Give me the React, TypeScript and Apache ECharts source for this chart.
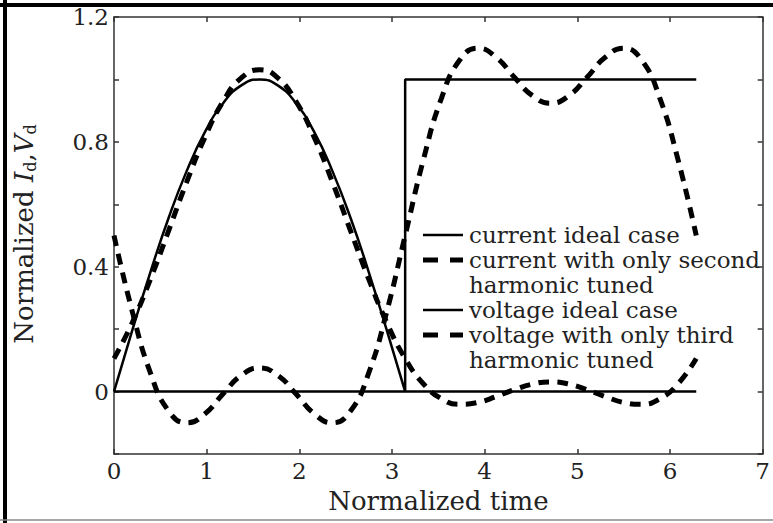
import React, { useEffect, useRef } from 'react';
import * as echarts from 'echarts';

// normalized time samples (step = pi/16)
const T = [0, 0.196, 0.393, 0.589, 0.785, 0.982, 1.178, 1.374, 1.571, 1.767, 1.963, 2.160, 2.356, 2.553, 2.749, 2.945, 3.142, 3.338, 3.534, 3.731, 3.927, 4.123, 4.320, 4.516, 4.712, 4.909, 5.105, 5.301, 5.498, 5.694, 5.890, 6.087, 6.283];

// ideal current: half sine, then zero for the second half period
const currentIdealT = [0, 0.196, 0.393, 0.589, 0.785, 0.982, 1.178, 1.374, 1.571, 1.767, 1.963, 2.160, 2.356, 2.553, 2.749, 2.945, 3.142];
const currentIdeal = [0, 0.195, 0.383, 0.556, 0.707, 0.832, 0.924, 0.981, 1, 0.981, 0.924, 0.832, 0.707, 0.556, 0.383, 0.195, 0];
const currentIdealTailT = [3.142, 6.283];
const currentIdealTail = [0, 0];

const currentSecond = [0.106, 0.220, 0.360, 0.515, 0.672, 0.815, 0.930, 1.005, 1.031, 1.005, 0.930, 0.815, 0.672, 0.515, 0.360, 0.220, 0.106, 0.025, -0.023, -0.041, -0.035, -0.016, 0.006, 0.024, 0.031, 0.024, 0.006, -0.016, -0.035, -0.041, -0.023, 0.025, 0.106];

const voltageIdealT = [0, 3.142, 3.142, 6.283];
const voltageIdeal = [0, 0, 1, 1];

const voltageThird = [0.5, 0.258, 0.060, -0.062, -0.100, -0.071, -0.007, 0.052, 0.076, 0.052, -0.007, -0.071, -0.100, -0.062, 0.060, 0.258, 0.5, 0.742, 0.940, 1.062, 1.100, 1.071, 1.007, 0.948, 0.924, 0.948, 1.007, 1.071, 1.100, 1.062, 0.940, 0.742, 0.5];

const seriesNames = [
  'current ideal case',
  'current with only second harmonic tuned',
  'voltage ideal case',
  'voltage with only third harmonic tuned',
];
const legendTexts = [
  'current ideal case',
  'current with only second\nharmonic tuned',
  'voltage ideal case',
  'voltage with only third\nharmonic tuned',
];
const yLabelValues = ['0', '0.4', '0.8', '1.2'];
const xAxisName = 'Normalized time';

const FONT = '"DejaVu Serif", "Liberation Serif", serif';
const TEXT = '#222';
const AXIS = '#333';

const pairs = (xs: number[], ys: number[]) => xs.map((x, i) => [x, ys[i]]);

export default function App() {
  const ref = useRef<HTMLDivElement>(null);
  useEffect(() => {
    if (!ref.current) return;
    const chart = echarts.init(ref.current, null, { renderer: 'svg' });
    const solid = { color: '#000', width: 2.5, type: 'solid' as const };
    const dashed = { color: '#000', width: 5, type: [11, 8] as any, cap: 'butt' as const };
    const axisCommon = {
      axisLine: { show: true, onZero: false, lineStyle: { color: AXIS, width: 1.5 } },
      axisTick: { show: true, inside: true, length: 5, lineStyle: { color: AXIS, width: 1.5 } },
      splitLine: { show: false },
    };
    const legendRows = [235, 260, 310, 335];
    const legendStyles = [false, true, false, true];
    const legendGraphics: any[] = [];
    legendTexts.forEach((t, i) => {
      const y = legendRows[i];
      legendGraphics.push({
        type: 'line',
        shape: { x1: 423, y1: y, x2: 463, y2: y },
        style: legendStyles[i]
          ? { stroke: '#000', lineWidth: 5, lineDash: [15, 12] }
          : { stroke: '#000', lineWidth: 2.5 },
        z: 100,
      });
      legendGraphics.push({
        type: 'text',
        x: 469,
        y: y - 12.5,
        style: { text: t, font: `23px ${FONT}`, fill: TEXT, lineHeight: 25, verticalAlign: 'top', align: 'left' },
        z: 100,
      });
    });

    chart.setOption({
      animation: false,
      backgroundColor: '#fff',
      grid: { left: 114, right: 2, top: 17, bottom: 69, containLabel: false },
      xAxis: [
        {
          type: 'value', min: 0, max: 7, interval: 1, position: 'bottom',
          name: xAxisName, nameLocation: 'middle', nameGap: 34,
          nameTextStyle: { fontFamily: FONT, fontSize: 26, color: TEXT },
          axisLabel: { fontFamily: FONT, fontSize: 23, color: TEXT, margin: 5 },
          ...axisCommon,
        },
        {
          type: 'value', min: 0, max: 7, interval: 1, position: 'top',
          axisLabel: { show: false },
          ...axisCommon,
        },
      ],
      yAxis: [
        {
          type: 'value', min: -0.2, max: 1.2, interval: 0.2, position: 'left',
          axisLabel: {
            fontFamily: FONT, fontSize: 23, color: TEXT, margin: 5,
            formatter: (v: number) => {
              const k = Math.round(v * 10);
              return k >= 0 && k % 4 === 0 ? yLabelValues[k / 4] : '';
            },
          },
          ...axisCommon,
        },
        {
          type: 'value', min: -0.2, max: 1.2, interval: 0.2, position: 'right',
          axisLabel: { show: false },
          ...axisCommon,
        },
      ],
      series: [
        { name: seriesNames[0], type: 'line', data: pairs(currentIdealT, currentIdeal), showSymbol: false, symbol: 'none', smooth: true, lineStyle: solid, z: 3 },
        { name: seriesNames[0], type: 'line', data: pairs(currentIdealTailT, currentIdealTail), showSymbol: false, symbol: 'none', lineStyle: solid, z: 3 },
        { name: seriesNames[1], type: 'line', data: pairs(T, currentSecond), showSymbol: false, symbol: 'none', smooth: true, lineStyle: dashed, z: 4 },
        { name: seriesNames[2], type: 'line', data: pairs(voltageIdealT, voltageIdeal), showSymbol: false, symbol: 'none', lineStyle: solid, z: 3 },
        { name: seriesNames[3], type: 'line', data: pairs(T, voltageThird), showSymbol: false, symbol: 'none', smooth: true, lineStyle: dashed, z: 4 },
      ],
      graphic: [
        ...legendGraphics,
        {
          type: 'text',
          x: 24, y: 234, rotation: Math.PI / 2,
          style: {
            text: 'Normalized {i|I}{s|d}{n|,}{i|V}{s|d}',
            font: `26px ${FONT}`,
            fill: TEXT,
            align: 'center',
            verticalAlign: 'middle',
            rich: {
              i: { fontFamily: FONT, fontSize: 26, fontStyle: 'italic', fill: TEXT, lineHeight: 32 } as any,
              s: { fontFamily: FONT, fontSize: 16, fill: TEXT, padding: [12, 0, 0, 0], lineHeight: 32 } as any,
              n: { fontFamily: FONT, fontSize: 26, fill: TEXT, lineHeight: 32 } as any,
            },
          },
          z: 100,
        },
        { type: 'line', shape: { x1: 5, y1: 0, x2: 5, y2: 523 }, style: { stroke: '#000', lineWidth: 4 }, z: 101 },
        { type: 'line', shape: { x1: 0, y1: 5, x2: 773, y2: 5 }, style: { stroke: '#000', lineWidth: 4 }, z: 101 },
        { type: 'line', shape: { x1: 0, y1: 520, x2: 773, y2: 520 }, style: { stroke: '#888', lineWidth: 1.5 }, z: 101 },
      ],
    });
    return () => chart.dispose();
  }, []);
  return (
    <div style={{ position: 'absolute', left: 0, top: 0, width: 773, height: 523, background: '#fff' }}>
      <div ref={ref} style={{ width: 773, height: 523 }} />
    </div>
  );
}
